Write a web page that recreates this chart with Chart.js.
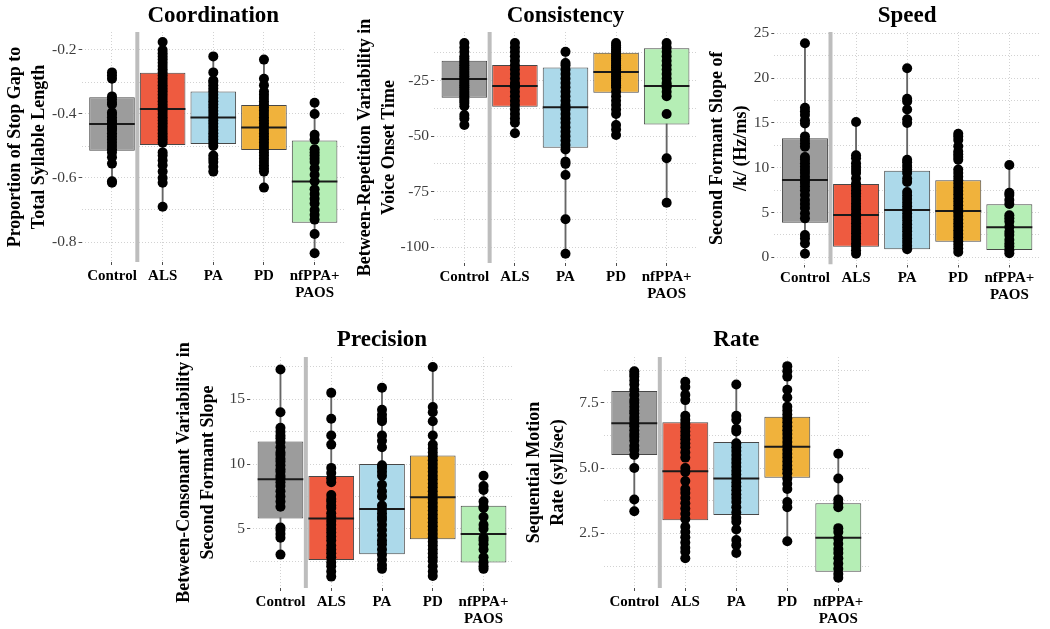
<!DOCTYPE html>
<html><head><meta charset="utf-8">
<script src="https://cdn.jsdelivr.net/npm/chart.js@4/dist/chart.umd.min.js"></script>
<style>
html,body{margin:0;padding:0;background:#fff;}
body{width:1050px;height:629px;position:relative;overflow:hidden;}
canvas{position:absolute;}
</style></head><body>
<canvas id="c1"></canvas><canvas id="c2"></canvas><canvas id="c3"></canvas><canvas id="c4"></canvas><canvas id="c5"></canvas>
<script>
// ---------- DATA ----------
const categories = ['Control', 'ALS', 'PA', 'PD', ['nfPPA+', 'PAOS']];
const dividerX = 1.5; // line separating controls from patient groups

// Coordination
const coordTicks = [-0.8, -0.6, -0.4, -0.2];
const coordTickLabels = ['-0.8', '-0.6', '-0.4', '-0.2'];
const coordControl = [-0.27,-0.28,-0.29,-0.345,-0.355,-0.365,-0.37,-0.395,-0.40,-0.41,-0.42,-0.425,-0.43,-0.44,-0.445,-0.45,-0.46,-0.47,-0.48,-0.49,-0.50,-0.51,-0.52,-0.535,-0.555,-0.61,-0.615];
const coordALS = [-0.175,-0.20,-0.21,-0.22,-0.23,-0.24,-0.25,-0.26,-0.27,-0.28,-0.29,-0.30,-0.31,-0.32,-0.33,-0.34,-0.35,-0.36,-0.37,-0.38,-0.39,-0.40,-0.41,-0.42,-0.43,-0.44,-0.45,-0.46,-0.47,-0.48,-0.49,-0.52,-0.53,-0.545,-0.56,-0.58,-0.60,-0.615,-0.69];
const coordPA = [-0.22,-0.27,-0.295,-0.30,-0.31,-0.32,-0.33,-0.34,-0.35,-0.36,-0.37,-0.38,-0.39,-0.40,-0.41,-0.42,-0.43,-0.44,-0.45,-0.46,-0.47,-0.48,-0.49,-0.50,-0.53,-0.54,-0.55,-0.565,-0.58];
const coordPD = [-0.23,-0.29,-0.31,-0.33,-0.34,-0.35,-0.36,-0.37,-0.38,-0.39,-0.40,-0.41,-0.42,-0.43,-0.44,-0.45,-0.46,-0.47,-0.48,-0.49,-0.50,-0.51,-0.52,-0.53,-0.54,-0.55,-0.56,-0.57,-0.58,-0.63];
const coordNf = [-0.365,-0.40,-0.465,-0.48,-0.51,-0.52,-0.53,-0.54,-0.55,-0.57,-0.59,-0.61,-0.635,-0.65,-0.665,-0.68,-0.70,-0.715,-0.73,-0.775,-0.835];
const coordQ1 = [-0.515,-0.497,-0.494,-0.5125,-0.740];
const coordMed = [-0.431,-0.384,-0.411,-0.442,-0.611];
const coordQ3 = [-0.348,-0.271,-0.330,-0.372,-0.483];
const coordLo = [-0.615,-0.69,-0.58,-0.63,-0.835];
const coordHi = [-0.27,-0.175,-0.22,-0.23,-0.365];

// Consistency
const consTicks = [-100, -75, -50, -25];
const consTickLabels = ['-100', '-75', '-50', '-25'];
const consControl = [-8,-10,-12,-14,-15,-16,-17,-18,-19,-20,-21,-22,-23,-24,-25,-26,-27,-28,-29,-30,-31,-32,-33,-34,-35,-36.5,-40.5,-42,-45];
const consALS = [-8,-10,-12,-14,-16,-18,-20,-22,-24,-26,-27,-28,-30,-32,-34,-36,-38,-40,-42,-44,-48.7];
const consPA = [-12,-17,-18,-20,-22,-24,-26,-28,-30,-32,-34,-36,-37,-38,-40,-42,-44,-46,-48,-50,-52,-54,-56,-61.5,-62.5,-67.5,-87.5,-103];
const consPD = [-8,-9,-10,-11,-12,-13,-14,-15,-16,-17,-18,-19,-20,-21,-22,-23,-24,-25,-26,-27,-28,-30,-32,-34,-36,-38,-40,-45,-47,-49.5];
const consNf = [-8,-10,-12,-14,-16,-18,-20,-22,-24,-26,-27,-28,-30,-32,-40,-60,-80];
const consQ1 = [-32.7,-36.7,-55.2,-30.4,-44.7];
const consMed = [-24.2,-27.4,-37,-21.1,-27.4];
const consQ3 = [-16,-17.9,-19.1,-12.4,-10.4];
const consLo = [-45,-48.7,-103,-49.5,-80];
const consHi = [-8,-8,-12,-8,-8];

// Speed
const speedTicks = [0, 5, 10, 15, 20, 25];
const speedTickLabels = ['0', '5', '10', '15', '20', '25'];
const speedControl = [23.9,16.7,16.3,15.9,15.3,14.95,13.5,13.1,12.7,12.35,11.2,10.9,10.5,10.1,9.75,9.4,9.0,8.6,8.3,7.9,7.5,6.95,6.4,5.95,5.5,4.9,4.35,2.5,2.1,1.55,0.4];
const speedALS = [15.1,11.4,11.05,10.5,10.1,9.75,9.4,8.8,8.25,7.9,7.5,7.15,6.8,6.4,6.0,5.65,5.3,4.9,4.55,4.2,3.8,3.4,3.05,2.7,2.3,1.95,1.55,1.2,0.8,0.4];
const speedPA = [21.1,17.7,17.4,16.5,15.4,15.0,10.9,10.6,10.2,9.8,9.4,8.8,8.4,7.3,6.9,6.5,6.1,5.7,5.3,4.9,4.5,4.1,3.7,3.3,2.9,2.5,2.1,1.7,1.3,0.9];
const speedPD = [13.8,13.5,13.1,12.4,11.8,11.5,11.2,10.9,9.8,9.4,9.0,8.6,8.2,7.8,7.4,7.0,6.6,6.2,5.8,5.4,5.0,4.6,4.2,3.8,3.4,3.0,2.6,2.2,1.8,1.4,1.0,0.6];
const speedNf = [10.3,7.2,6.95,6.4,5.95,4.7,4.35,4.0,3.4,2.85,2.5,1.95,1.55,1.2,0.8,0.45];
const speedQ1 = [3.87,1.19,0.89,1.75,0.82];
const speedMed = [8.63,4.72,5.28,5.17,3.35];
const speedQ3 = [13.3,8.18,9.67,8.6,5.92];
const speedLo = [0.4,0.4,0.9,0.6,0.45];
const speedHi = [23.9,15.1,21.1,13.8,10.3];

// Precision
const precTicks = [5, 10, 15];
const precTickLabels = ['5', '10', '15'];
const precControl = [17.3,14.0,12.8,12.5,12.2,12.0,11.7,11.3,10.9,10.7,10.4,10.2,9.9,9.6,9.4,9.1,8.9,8.6,8.3,7.9,7.5,7.1,6.7,5.1,4.9,4.6,4.3,3.0];
const precALS = [15.5,13.5,12.2,11.5,9.7,9.3,8.9,8.6,7.6,7.3,7.1,6.8,6.6,6.2,5.9,5.6,5.3,5.0,4.7,4.4,4.1,3.7,3.4,3.1,2.8,2.4,2.1,1.7,1.3];
const precPA = [15.9,14.2,13.8,13.5,13.3,12.2,11.8,11.3,9.9,9.7,9.4,9.1,8.4,7.9,7.5,6.8,6.5,6.2,5.9,5.7,5.3,4.9,4.5,4.1,3.8,3.4,3.0,2.6,2.2,1.9];
const precPD = [17.5,14.4,14.0,13.3,12.2,11.5,11.2,10.9,10.6,10.3,10.0,9.7,9.4,9.1,8.8,8.5,8.2,7.9,7.6,7.3,7.0,6.7,6.4,6.1,5.8,5.5,5.2,4.9,4.6,4.3,4.0,3.7,3.4,3.1,2.8,2.5,2.1,1.7,1.35];
const precNf = [9.1,8.3,8.0,7.1,6.7,6.6,5.9,5.3,5.0,4.3,4.1,3.8,3.4,2.8,2.4,2.1,1.9];
const precQ1 = [5.8,2.58,3.02,4.18,2.4];
const precMed = [8.82,5.8,6.52,7.43,4.6];
const precQ3 = [11.75,9.08,10.0,10.65,6.78];
const precLo = [3.0,1.3,1.9,1.35,1.9];
const precHi = [17.3,15.5,15.9,17.5,9.1];

// Rate
const rateTicks = [2.5, 5.0, 7.5];
const rateTickLabels = ['2.5', '5.0', '7.5'];
const rateControl = [8.7,8.6,8.5,8.35,8.2,8.0,7.8,7.6,7.5,7.35,7.2,7.1,6.95,6.85,6.7,6.6,6.45,6.3,6.2,6.05,5.85,5.7,5.5,5.0,3.8,3.35];
const rateALS = [8.3,8.1,7.8,7.6,7.0,6.85,6.7,6.55,6.4,6.25,6.1,5.95,5.8,5.6,5.4,5.0,4.85,4.5,4.2,4.05,3.85,3.65,3.45,3.25,3.05,2.75,2.55,2.35,2.15,1.95,1.8,1.55];
const ratePA = [8.2,7.0,6.85,6.5,6.4,5.95,5.8,5.65,5.5,5.35,5.2,5.05,4.9,4.75,4.6,4.45,4.3,4.15,4.0,3.85,3.7,3.5,3.3,3.1,2.95,2.65,2.25,2.05,1.75];
const ratePD = [8.9,8.7,8.5,8.0,7.7,7.35,7.2,7.05,6.9,6.75,6.6,6.45,6.3,6.15,6.0,5.85,5.7,5.55,5.4,5.25,5.1,4.95,4.8,4.6,4.4,4.2,3.7,3.5,2.2];
const rateNf = [5.55,4.6,3.8,3.65,3.5,2.7,2.55,2.3,2.1,1.9,1.75,1.55,1.35,1.15,0.95,0.8];
const rateQ1 = [5.5,3.0,3.2,4.63,1.03];
const rateMed = [6.71,4.88,4.6,5.82,2.33];
const rateQ3 = [7.95,6.75,6.0,6.96,3.65];
const rateLo = [3.35,1.55,1.75,2.2,0.8];
const rateHi = [8.7,8.3,8.2,8.9,5.55];

// ---------- STYLE / LAYOUT ----------
const boxColors = ['#9c9c9c', '#ee5b40', '#acd9ea', '#f0b23c', '#b5eeb5'];
const SERIF = '"Liberation Serif", "Times New Roman", serif';
const boxWidth = 0.9;

const panels = [
  { id:'c1', geo:{cx:0,   cy:0,   cw:350, ch:302, L:81.6,  R:346.6, T:32,  B:262,   titleY:16.5},
    s:{title:'Coordination', yTitle:['Proportion of Stop Gap to','Total Syllable Length'], yMin:-0.8625, yMax:-0.14375,
       ticks:coordTicks, tickLabels:coordTickLabels, points:[coordControl,coordALS,coordPA,coordPD,coordNf],
       q1:coordQ1, med:coordMed, q3:coordQ3, lo:coordLo, hi:coordHi}},
  { id:'c2', geo:{cx:350, cy:0,   cw:352, ch:302, L:434,   R:701.6, T:32,  B:263,   titleY:16.5},
    s:{title:'Consistency', yTitle:['Between-Repetition Variability in','Voice Onset Time'], yMin:-107.2, yMax:-3.04,
       ticks:consTicks, tickLabels:consTickLabels, points:[consControl,consALS,consPA,consPD,consNf],
       q1:consQ1, med:consMed, q3:consQ3, lo:consLo, hi:consHi}},
  { id:'c3', geo:{cx:702, cy:0,   cw:348, ch:302, L:774.3, R:1040,  T:32,  B:264.5, titleY:16.5},
    s:{title:'Speed', yTitle:['Second Formant Slope of','/k/ (Hz/ms)'], yMin:-0.8, yMax:25.15,
       ticks:speedTicks, tickLabels:speedTickLabels, points:[speedControl,speedALS,speedPA,speedPD,speedNf],
       q1:speedQ1, med:speedMed, q3:speedQ3, lo:speedLo, hi:speedHi}},
  { id:'c4', geo:{cx:169, cy:302, cw:350, ch:327, L:250,   R:515.6, T:357, B:588,   titleY:340.5},
    s:{title:'Precision', yTitle:['Between-Consonant Variability in','Second Formant Slope'], yMin:0.42, yMax:18.27,
       ticks:precTicks, tickLabels:precTickLabels, points:[precControl,precALS,precPA,precPD,precNf],
       q1:precQ1, med:precMed, q3:precQ3, lo:precLo, hi:precHi}},
  { id:'c5', geo:{cx:519, cy:302, cw:360, ch:327, L:603.7, R:868.9, T:357, B:588,   titleY:340.5},
    s:{title:'Rate', yTitle:['Sequential Motion','Rate (syll/sec)'], yMin:0.41, yMax:9.25,
       ticks:rateTicks, tickLabels:rateTickLabels, points:[rateControl,rateALS,ratePA,ratePD,rateNf],
       q1:rateQ1, med:rateMed, q3:rateQ3, lo:rateLo, hi:rateHi}}
];

function build(p) {
  const {geo, s} = p;
  const cv = document.getElementById(p.id);
  cv.width = geo.cw; cv.height = geo.ch;
  cv.style.left = geo.cx + 'px'; cv.style.top = geo.cy + 'px';

  const step = s.ticks[1] - s.ticks[0];
  const allTicks = [];
  for (let k = -1; k <= 2 * (s.ticks.length - 1) + 1; k++) {
    const v = +(s.ticks[0] + k * step / 2).toFixed(6);
    if (v >= s.yMin && v <= s.yMax) allTicks.push(v);
  }
  const majorIndex = v => s.ticks.findIndex(t => Math.abs(t - v) < 1e-6);
  const xs = categories.map((c, i) => i + 1);
  const pointData = [];
  s.points.forEach((arr, i) => arr.forEach(v => pointData.push({x: i + 1, y: v})));

  const titleLH = 23 * 1.2;
  const pt = geo.titleY - geo.cy - titleLH / 2;
  const pb = geo.T - geo.cy - titleLH - pt;

  new Chart(cv, {
    type: 'bar',
    data: {
      datasets: [
        {type:'scatter', data: pointData, order:0, pointRadius:5, pointBackgroundColor:'#000',
         pointBorderWidth:0, pointHoverRadius:5},
        {type:'scatter', data: xs.map((x, i) => ({x, y: s.med[i]})), order:1, pointStyle:'line',
         pointRadius: c => { const sx = c.chart.scales.x; return sx.getPixelForValue(1 + boxWidth / 2) - sx.getPixelForValue(1); },
         pointBorderColor:'#1a1a1a', pointBorderWidth:2},
        {type:'bar', data: xs.map((x, i) => ({x, y: [s.q1[i], s.q3[i]]})), order:2,
         backgroundColor: boxColors, borderColor:'#474747', borderWidth:1, borderSkipped:false,
         grouped:false, categoryPercentage: boxWidth, barPercentage:1},
        {type:'bar', data: xs.map((x, i) => ({x, y: [s.lo[i], s.hi[i]]})), order:3,
         backgroundColor:'#666666', barThickness:1.2, grouped:false},
        {type:'line', data: [{x: dividerX, y: s.yMin}, {x: dividerX, y: s.yMax}], order:4,
         borderColor:'#bdbdbd', borderWidth:4, pointRadius:0, fill:false}
      ]
    },
    options: {
      responsive:false, animation:false, devicePixelRatio:1, events:[],
      layout:{padding:{left:0, top:0, bottom:0, right: geo.cx + geo.cw - geo.R}},
      plugins:{
        legend:{display:false}, tooltip:{enabled:false},
        title:{display:true, text:s.title, fullSize:false, color:'#000',
               font:{family:SERIF, size:23, weight:'bold', lineHeight:1.2}, padding:{top:pt, bottom:pb}}
      },
      scales:{
        x:{type:'linear', min:0.4, max:5.6, offset:false,
           afterBuildTicks: sc => { sc.ticks = xs.map(v => ({value: v})); },
           afterFit: sc => { sc.height = geo.cy + geo.ch - geo.B; },
           ticks:{autoSkip:false, maxRotation:0, minRotation:0, padding:2, color:'#000',
                  font:{family:SERIF, size:15, weight:'bold', lineHeight:1.15},
                  callback: v => categories[Math.round(v) - 1]},
           grid:{color:'#d2d2d2', lineWidth:1, offset:false, drawTicks:true, tickLength:3, tickColor:'#4d4d4d', tickWidth:1},
           border:{display:false, dash:[1,2]}},
        y:{type:'linear', min:s.yMin, max:s.yMax, beginAtZero:false, bounds:'data',
           afterBuildTicks: sc => { sc.ticks = allTicks.map(v => ({value: v})); },
           afterFit: sc => { sc.width = geo.L - geo.cx; },
           ticks:{autoSkip:false, padding:2, color:'#3d3d3d', font:{family:SERIF, size:15.5},
                  callback: v => { const i = majorIndex(v); return i >= 0 ? s.tickLabels[i] : ''; }},
           grid:{color:'#d2d2d2', lineWidth:1, drawTicks:true, tickLength:3, tickWidth:1,
                 tickColor: c => (c.tick && majorIndex(c.tick.value) >= 0) ? '#4d4d4d' : 'rgba(0,0,0,0)'},
           border:{display:false, dash:[1,2]},
           title:{display:true, text:s.yTitle, color:'#000',
                  font:{family:SERIF, size:18, weight:'bold', lineHeight:1.3}, padding:{top:4, bottom:0}}}
      }
    }
  });
}
panels.forEach(build);
</script>
</body></html>
